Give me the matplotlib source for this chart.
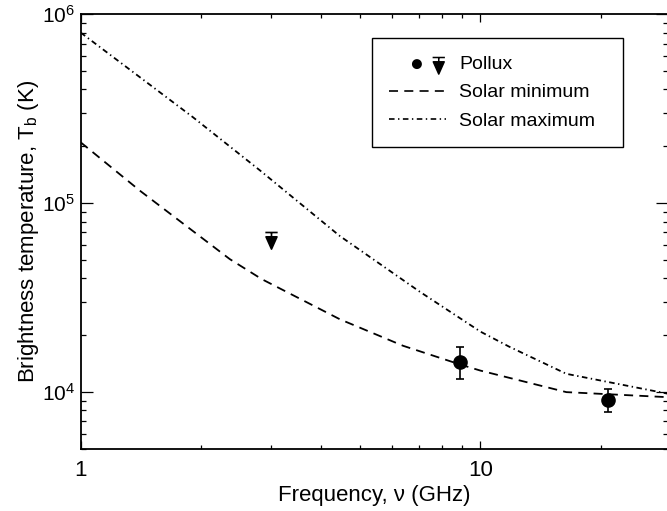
import numpy as np
import matplotlib
matplotlib.use("Agg")
import matplotlib.pyplot as plt
from matplotlib.path import Path
from matplotlib.lines import Line2D
from matplotlib.ticker import FuncFormatter, NullFormatter

plt.rcParams['font.family'] = ['Liberation Sans', 'DejaVu Sans']
plt.rcParams['mathtext.fontset'] = 'custom'
plt.rcParams['mathtext.rm'] = 'Liberation Sans'
plt.rcParams['mathtext.it'] = 'Liberation Sans:italic'
plt.rcParams['lines.scale_dashes'] = False

# solar spectra (GHz, K)
smax_freq = [1.0, 1.91, 2.81, 4.45, 7.05, 10.0, 11.8, 16.4, 29.5]
smax_tb = [8.0e5, 2.85e5, 1.49e5, 6.7e4, 3.4e4, 2.09e4, 1.74e4, 1.25e4, 9.8e3]

smin_freq = [1.0, 1.41, 2.36, 2.84, 4.45, 6.4, 8.9, 10.0, 16.4, 29.5]
smin_tb = [2.1e5, 1.16e5, 5.06e4, 3.96e4, 2.43e4, 1.76e4, 1.40e4, 1.3e4, 1.0e4, 9.4e3]

# Pollux detections
pol_freq = [8.9, 20.9]
pol_tb = [1.45e4, 9.06e3]
pol_hi = [1.74e4, 1.04e4]
pol_lo = [1.18e4, 7.86e3]

# Pollux upper limit
lim_freq = [3.0]
lim_tb = [7.0e4]


def limit_path(dx=0.0, dy=0.0):
    # bar, stem and downward triangle; bar at origin
    v = [(-0.37, 0), (0.37, 0), (0, 0), (0, -0.26),
         (-0.33, -0.26), (0.33, -0.26), (0, -1.0), (-0.33, -0.26)]
    c = [Path.MOVETO, Path.LINETO, Path.MOVETO, Path.LINETO,
         Path.MOVETO, Path.LINETO, Path.LINETO, Path.CLOSEPOLY]
    v = [(x + dx, y + dy) for x, y in v]
    return v, c


fig = plt.figure(figsize=(6.67, 5.11), dpi=100)
ax = fig.add_axes([80.7 / 667, 1 - 449 / 511, 587.6 / 667, 434.7 / 511])

ax.plot(smin_freq, smin_tb, color='black', lw=1.3, ls=(0, (6.5, 4.5)))
ax.plot(smax_freq, smax_tb, color='black', lw=1.3, ls=(0, (4, 2.5, 1, 2.5)))

yerr = [np.array(pol_tb) - np.array(pol_lo), np.array(pol_hi) - np.array(pol_tb)]
ax.errorbar(pol_freq, pol_tb, yerr=yerr, fmt='o', color='black', ms=9.5,
            elinewidth=1.2, capsize=3, capthick=1.2)

v, c = limit_path()
ax.plot(lim_freq, lim_tb, ls='none', marker=Path(v, c), ms=23.9,
        color='black', mew=1.2)

ax.set_xscale('log')
ax.set_yscale('log')
ax.set_xlim(1, 29.5)
ax.set_ylim(5e3, 1e6)

ax.xaxis.set_major_formatter(FuncFormatter(lambda x, p: '%g' % x))
ax.xaxis.set_minor_formatter(NullFormatter())
ax.yaxis.set_minor_formatter(NullFormatter())

ax.tick_params(which='both', direction='in', top=True, right=True)
ax.tick_params(axis='x', which='major', length=6.1, width=0.9, labelsize=16, pad=8)
ax.tick_params(axis='x', which='minor', length=2.9, width=0.9)
ax.tick_params(axis='y', which='major', length=8.4, width=0.9, labelsize=15, pad=4)
ax.tick_params(axis='y', which='minor', length=3.6, width=0.9)
for s in ax.spines.values():
    s.set_linewidth(1.3)

ax.set_xlabel('Frequency, ν (GHz)', fontsize=16, labelpad=3)
ax.set_ylabel('Brightness temperature, T$_{\\rm b}$ (K)', fontsize=16, labelpad=1)

# legend: combined circle + limit symbol for Pollux
circ = np.linspace(0, 2 * np.pi, 25)
cv = [(-0.06 + 0.16 * np.cos(t), -0.06 + 0.16 * np.sin(t)) for t in circ]
cc = [Path.MOVETO] + [Path.LINETO] * 23 + [Path.CLOSEPOLY]
lv, lc = limit_path(0.0, 0.0)
lv = [(0.77 + x * 0.63, 0.19 + y * 0.63) for x, y in lv]
pol_handle = Line2D([], [], ls='none', marker=Path(cv + lv, cc + lc),
                    ms=38, color='black', mew=1.1)
h_min = Line2D([], [], color='black', lw=1.2, ls=(0, (6.5, 4.5)))
h_max = Line2D([], [], color='black', lw=1.2, ls=(0, (4, 2.5, 1, 2.5)))

leg = ax.legend([pol_handle, h_min, h_max], ['Pollux', 'Solar minimum', 'Solar maximum'],
                loc='upper left', bbox_to_anchor=(0.4957, 0.5, 0.4272, 0.4455),
                mode='expand', borderaxespad=0,
                fontsize=14, handlelength=2.9, handletextpad=0.67, borderpad=0.9,
                labelspacing=0.55, fancybox=False, framealpha=1, edgecolor='black')
leg.get_frame().set_linewidth(1.0)

fig.savefig('out.png', dpi=100)
